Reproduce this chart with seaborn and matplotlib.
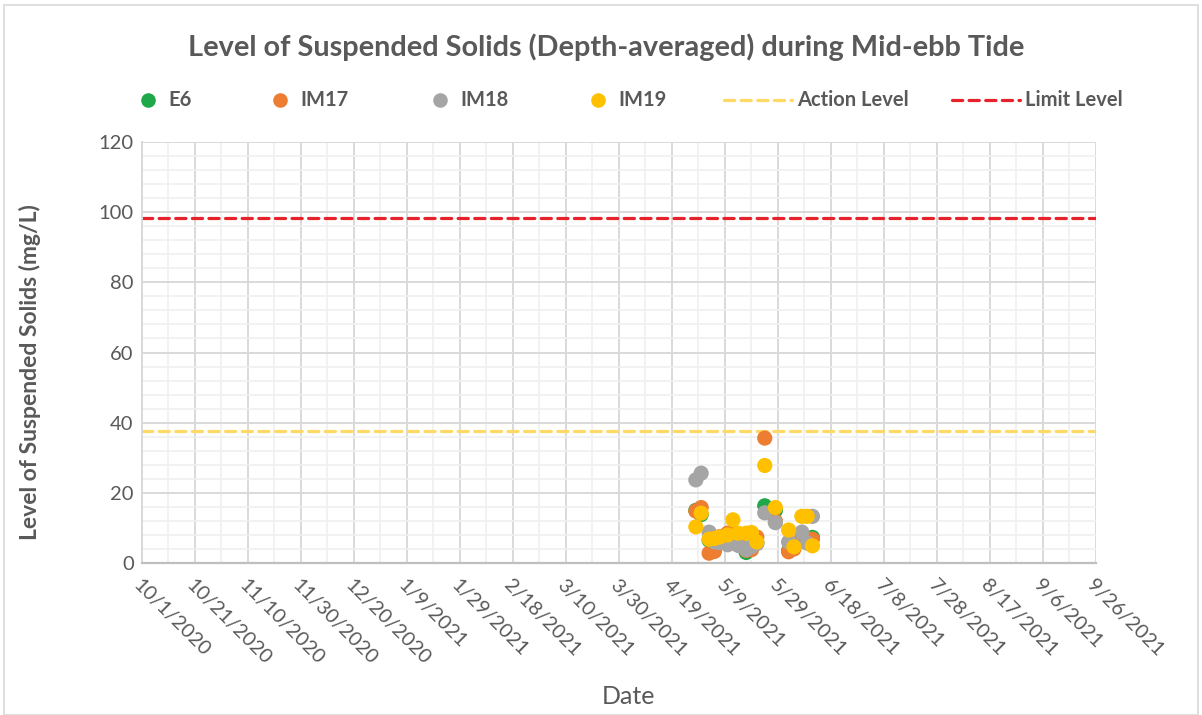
import matplotlib
matplotlib.use("Agg")
import matplotlib.pyplot as plt
import matplotlib.dates as mdates
from matplotlib.ticker import FuncFormatter, MultipleLocator
from matplotlib.lines import Line2D
from matplotlib.patches import Rectangle
import pandas as pd
import seaborn as sns

# Monitoring dates and depth-averaged suspended solids (mg/L) per station
dates = ["2021-04-28", "2021-04-30", "2021-05-03", "2021-05-05", "2021-05-07",
         "2021-05-10", "2021-05-12", "2021-05-14", "2021-05-17", "2021-05-19",
         "2021-05-21", "2021-05-24", "2021-05-28", "2021-06-02", "2021-06-04",
         "2021-06-07", "2021-06-09", "2021-06-11"]
e6 = [15.0, 13.8, 6.5, 5.5, 6.8, 6.0, 7.0, 5.5, 3.0, 4.5,
      5.8, 16.3, 15.0, 3.5, 4.8, 6.5, 5.8, 7.3]
im17 = [14.8, 15.8, 2.8, 3.3, 7.5, 8.5, 8.8, 6.5, 3.6, 3.8,
        7.4, 35.6, 12.0, 3.2, 4.0, 7.5, 6.0, 6.8]
im18 = [23.7, 25.6, 8.8, 6.0, 5.8, 5.2, 6.5, 5.0, 3.8, 4.6,
        5.5, 14.3, 11.5, 6.0, 5.0, 8.8, 5.7, 13.3]
im19 = [10.3, 14.2, 6.8, 7.0, 7.4, 8.0, 12.3, 8.5, 8.5, 8.7,
        6.0, 27.8, 15.8, 9.4, 4.6, 13.3, 13.3, 4.9]

stations = ["E6", "IM17", "IM18", "IM19"]
station_colors = ["#1FA84A", "#ED7D31", "#A5A5A5", "#FFC000"]
action_level = 37.6
limit_level = 98.2
action_color = "#FFD966"
limit_color = "#E8222A"

x_start, x_end = "2020-10-01", "2021-09-26"

df = pd.DataFrame({
    "Date": pd.to_datetime(dates * 4),
    "Station": sum([[s] * len(dates) for s in stations], []),
    "Value": e6 + im17 + im18 + im19,
})

sns.set_theme(style="white")
plt.rcParams["font.family"] = ["Lato", "DejaVu Sans"]
text_gray = "#595959"

fig = plt.figure(figsize=(12.02, 7.15), dpi=100)
ax = fig.add_axes([142 / 1202, 1 - 563 / 715, (1096 - 142) / 1202, (563 - 142) / 715])

# grid
ax.set_axisbelow(True)
ax.grid(which="major", color="#D9D9D9", lw=1.4)
ax.grid(which="minor", color="#F0F0F0", lw=1.2)

sns.scatterplot(data=df, x="Date", y="Value", hue="Station", hue_order=stations,
                palette=station_colors, s=120, edgecolor="none", linewidth=0,
                alpha=1, legend=False, ax=ax, zorder=3)

ax.axhline(action_level, color=action_color, lw=2.3, ls=(0, (3.2, 2.0)),
           dash_capstyle="round", zorder=2)
ax.axhline(limit_level, color=limit_color, lw=2.3, ls=(0, (3.2, 2.0)),
           dash_capstyle="round", zorder=2)

ax.set_xlim(pd.Timestamp(x_start), pd.Timestamp(x_end))
ax.set_ylim(0, 120)
ax.set_xticks(pd.date_range(x_start, x_end, freq="20D"))
ax.set_xticks(pd.date_range(x_start, x_end, freq="10D"), minor=True)
ax.xaxis.set_major_formatter(FuncFormatter(
    lambda v, _: (lambda d: f"{d.month}/{d.day}/{d.year}")(mdates.num2date(v))))
ax.yaxis.set_major_locator(MultipleLocator(20))
ax.yaxis.set_minor_locator(MultipleLocator(4))

ax.tick_params(axis="both", which="both", length=0, colors=text_gray, labelsize=14.5)
ax.tick_params(axis="y", pad=6)
ax.tick_params(axis="x", pad=10)
for lab in ax.get_xticklabels():
    lab.set_rotation(-45)
    lab.set_ha("left")
    lab.set_va("top")
    lab.set_rotation_mode("anchor")

for side in ["top", "right"]:
    ax.spines[side].set_visible(False)
ax.spines["left"].set_color("#D9D9D9")
ax.spines["left"].set_linewidth(1.4)
ax.spines["bottom"].set_color("#BFBFBF")
ax.spines["bottom"].set_linewidth(1.6)

ax.set_xlabel("")
ax.set_ylabel("")
fig.text(30 / 1202, 1 - 372 / 715, "Level of Suspended Solids (mg/L)", rotation=90,
         ha="center", va="center", fontsize=16.5, fontweight="bold", color=text_gray)
fig.text(628 / 1202, 1 - 697 / 715, "Date", ha="center", va="center",
         fontsize=18, color=text_gray)

fig.text(606 / 1202, 1 - 47 / 715,
         "Level of Suspended Solids (Depth-averaged) during Mid-ebb Tide",
         ha="center", va="center", fontsize=20.8, fontweight="bold", color=text_gray)

# legend row
leg_y = 1 - 100 / 715
marker_x = [148, 280, 440, 598]
for name, col, mx in zip(stations, station_colors, marker_x):
    fig.add_artist(Line2D([mx / 1202], [leg_y], marker="o", ms=10.5, color=col,
                          mec="none", ls="none", transform=fig.transFigure))
    fig.text((mx + 20) / 1202, leg_y, name, ha="left", va="center",
             fontsize=14.5, fontweight="bold", color=text_gray)
for name, col, x0, x1 in [("Action Level", action_color, 724, 792),
                          ("Limit Level", limit_color, 952, 1020)]:
    fig.add_artist(Line2D([x0 / 1202, x1 / 1202], [leg_y, leg_y], color=col, lw=2.3,
                          ls=(0, (3.2, 2.0)), dash_capstyle="round",
                          transform=fig.transFigure))
    fig.text((x1 + 5) / 1202, leg_y, name, ha="left", va="center",
             fontsize=14.5, fontweight="bold", color=text_gray)

fig.add_artist(Rectangle((4 / 1202, 0), 1194 / 1202, 1 - 5 / 715, fill=False,
                         edgecolor="#D9D9D9", lw=1.2, transform=fig.transFigure))

fig.savefig("out.png", dpi=100)
